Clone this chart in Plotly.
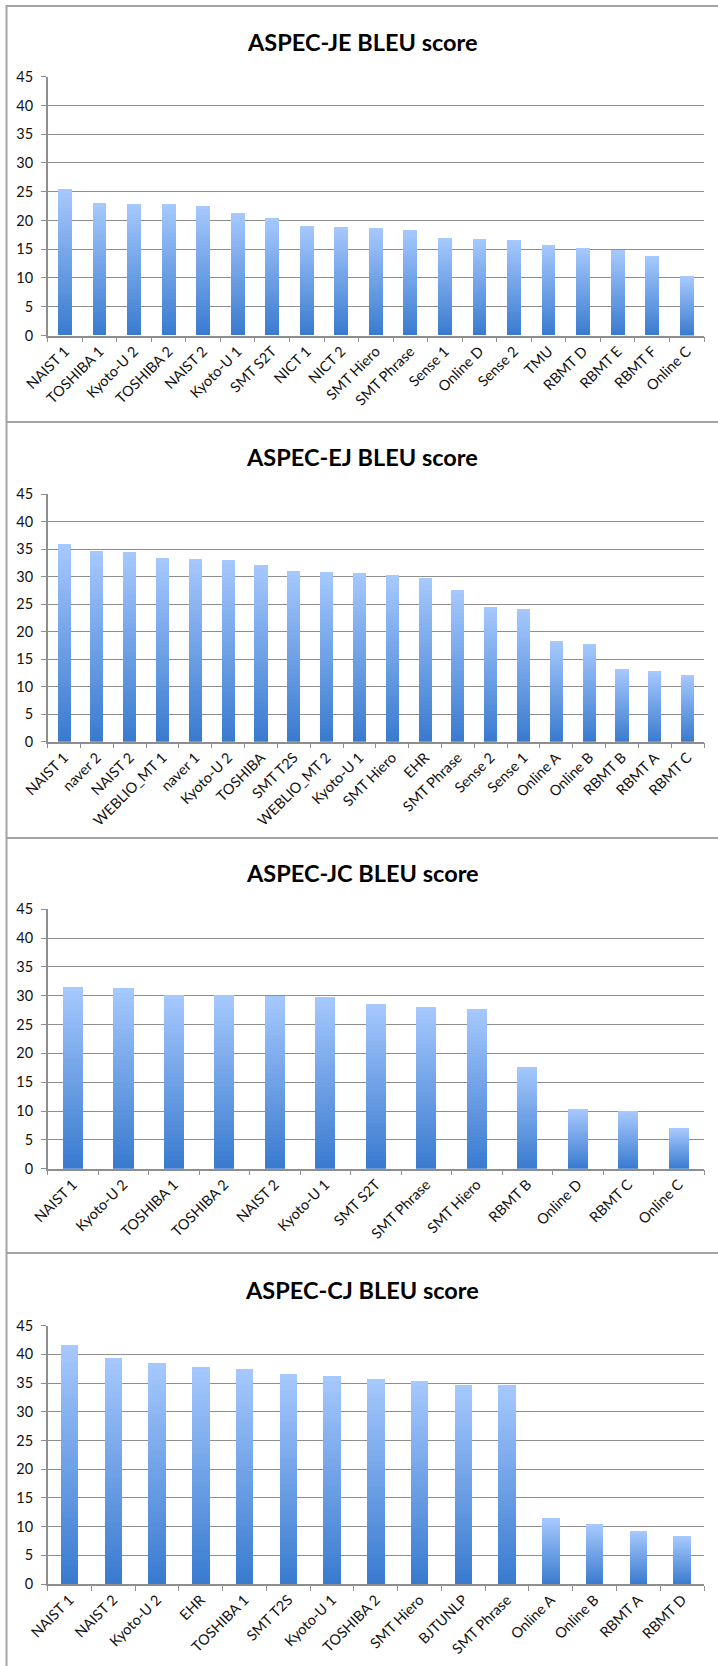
import plotly.graph_objects as go

# ---- data -------------------------------------------------------------
je_labels = ["NAIST 1", "TOSHIBA 1", "Kyoto-U 2", "TOSHIBA 2", "NAIST 2", "Kyoto-U 1",
             "SMT S2T", "NICT 1", "NICT 2", "SMT Hiero", "SMT Phrase", "Sense 1",
             "Online D", "Sense 2", "TMU", "RBMT D", "RBMT E", "RBMT F", "Online C"]
je_scores = [25.4, 23.0, 22.9, 22.9, 22.6, 21.3, 20.4, 19.0, 18.9, 18.7, 18.4, 16.9,
             16.8, 16.6, 15.8, 15.3, 14.8, 13.9, 10.3]

ej_labels = ["NAIST 1", "naver 2", "NAIST 2", "WEBLIO_MT 1", "naver 1", "Kyoto-U 2",
             "TOSHIBA", "SMT T2S", "WEBLIO_MT 2", "Kyoto-U 1", "SMT Hiero", "EHR",
             "SMT Phrase", "Sense 2", "Sense 1", "Online A", "Online B", "RBMT B",
             "RBMT A", "RBMT C"]
ej_scores = [35.9, 34.6, 34.4, 33.3, 33.2, 33.1, 32.1, 31.1, 30.8, 30.7, 30.2, 29.8,
             27.5, 24.4, 24.1, 18.3, 17.8, 13.2, 12.9, 12.2]

jc_labels = ["NAIST 1", "Kyoto-U 2", "TOSHIBA 1", "TOSHIBA 2", "NAIST 2", "Kyoto-U 1",
             "SMT S2T", "SMT Phrase", "SMT Hiero", "RBMT B", "Online D", "RBMT C",
             "Online C"]
jc_scores = [31.6, 31.3, 30.2, 30.1, 30.0, 29.8, 28.6, 28.0, 27.7, 17.7, 10.3, 9.9, 7.0]

cj_labels = ["NAIST 1", "NAIST 2", "Kyoto-U 2", "EHR", "TOSHIBA 1", "SMT T2S",
             "Kyoto-U 1", "TOSHIBA 2", "SMT Hiero", "BJTUNLP", "SMT Phrase",
             "Online A", "Online B", "RBMT A", "RBMT D"]
cj_scores = [41.7, 39.3, 38.5, 37.8, 37.4, 36.5, 36.2, 35.8, 35.4, 34.7, 34.6,
             11.5, 10.4, 9.3, 8.3]

titles = ["ASPEC-JE BLEU score", "ASPEC-EJ BLEU score",
          "ASPEC-JC BLEU score", "ASPEC-CJ BLEU score"]

# ---- page geometry (pixels) --------------------------------------------
W, H = 718, 1666
plot_left, plot_right = 47.7, 704.0
panels_px = [  # (axis top at 45, axis bottom at 0, title centre, frame top)
    (76.7, 335.5, 42, 6),
    (494.0, 741.7, 457, 422),
    (909.3, 1168.7, 873, 838),
    (1325.7, 1584.0, 1290, 1253),
]

GRID = "#8e8e8e"
TEXT = "#111111"
FONT = "Lato"
N_SLICES = 40
BOTTOM_RGB = (58, 123, 207)
TOP_RGB = (165, 200, 253)


def px_x(x):
    return x / W


def px_y(y):
    return 1 - y / H


def slice_colour(k):
    t = k / (N_SLICES - 1)
    r, g, b = (round(a + (c - a) * t) for a, c in zip(BOTTOM_RGB, TOP_RGB))
    return f"rgb({r},{g},{b})"


fig = go.Figure()
datasets = [(je_labels, je_scores), (ej_labels, ej_scores),
            (jc_labels, jc_scores), (cj_labels, cj_scores)]

layout_axes = {}
annotations = []
shapes = []

for i, ((labels, scores), title, (ytop, ybot, ytitle, yframe)) in enumerate(
        zip(datasets, titles, panels_px), start=1):
    xa = "x" if i == 1 else f"x{i}"
    ya = "y" if i == 1 else f"y{i}"
    # gradient bars: each bar is stacked from thin slices shading dark to light
    for k in range(N_SLICES):
        fig.add_trace(go.Bar(
            x=labels, y=[s / N_SLICES for s in scores],
            customdata=scores,
            hovertemplate="%{x}: %{customdata}<extra></extra>",
            marker=dict(color=slice_colour(k), line=dict(width=0)),
            xaxis=xa, yaxis=ya, showlegend=False,
        ))
    xname = "xaxis" if i == 1 else f"xaxis{i}"
    yname = "yaxis" if i == 1 else f"yaxis{i}"
    layout_axes[xname] = dict(
        domain=[px_x(plot_left), px_x(plot_right)], anchor=ya, automargin=False,
        type="category", categoryorder="array", categoryarray=labels,
        showline=True, linecolor=GRID, linewidth=1.5,
        ticks="outside", tickson="boundaries", ticklen=5, tickcolor=GRID, tickwidth=1.2,
        tickangle=-45, showgrid=False, fixedrange=True,
        tickfont=dict(family=FONT, size=14.5, color=TEXT),
    )
    layout_axes[yname] = dict(
        domain=[px_y(ybot), px_y(ytop)], anchor=xa, automargin=False,
        range=[0, 45], dtick=5, tick0=0,
        showgrid=True, gridcolor=GRID, gridwidth=1.3, zeroline=False,
        showline=True, linecolor=GRID, linewidth=1.5,
        ticks="outside", ticklen=5, tickcolor=GRID, tickwidth=1.2,
        ticklabelstandoff=5, fixedrange=True,
        tickfont=dict(family=FONT, size=14.5, color=TEXT),
    )
    annotations.append(dict(
        text=f"<b>{title}</b>", x=px_x(362), y=px_y(ytitle),
        xref="paper", yref="paper", xanchor="center", yanchor="middle",
        showarrow=False, font=dict(family=FONT, size=23.5, color="#000000"),
    ))
    # frame line along the top of each panel
    shapes.append(dict(type="line", xref="paper", yref="paper",
                       x0=px_x(6), x1=1, y0=px_y(yframe), y1=px_y(yframe),
                       line=dict(color="#a3a3a3", width=2)))

# left frame edge running down all panels
shapes.append(dict(type="line", xref="paper", yref="paper",
                   x0=px_x(6.5), x1=px_x(6.5), y0=0, y1=px_y(5),
                   line=dict(color="#a3a3a3", width=2)))

fig.update_layout(
    width=W, height=H, autosize=False,
    margin=dict(l=0, r=0, t=0, b=0, pad=0, autoexpand=False),
    paper_bgcolor="white", plot_bgcolor="white",
    barmode="stack", bargap=0.6,
    annotations=annotations, shapes=shapes,
    showlegend=False,
    **layout_axes,
)

# the page itself gets no margin so the figure fills the window exactly
fig.write_html(
    "out.html",
    config={"displayModeBar": False},
    post_script="document.body.style.margin='0';document.body.style.padding='0';",
)
